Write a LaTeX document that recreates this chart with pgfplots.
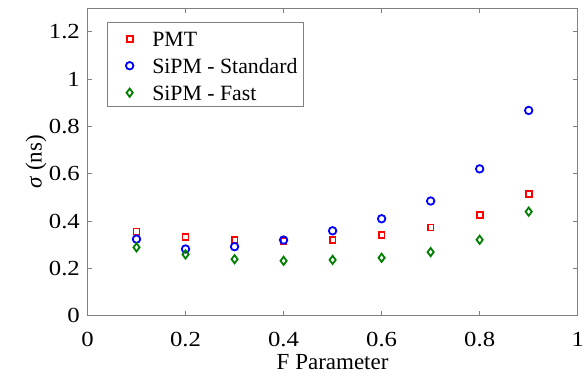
\documentclass[border=0pt]{standalone}
\usepackage{fontspec}
\setmainfont{Liberation Serif}
\newfontfamily\tnr{Liberation Serif}
\newfontfamily\tnrwide[FakeStretch=1.15]{Liberation Serif}
\usepackage{pgfplots}
\pgfplotsset{compat=1.18}
\definecolor{axgray}{RGB}{128,128,128}
\definecolor{mgreen}{RGB}{0,128,0}
\begin{document}
\tnr\fontsize{22}{26}\selectfont
\begin{tikzpicture}
\begin{axis}[
  scale only axis,
  width=490.2pt, height=307.4pt,
  xmin=0, xmax=1, ymin=0, ymax=1.3,
  xtick={0,0.2,0.4,0.6,0.8,1},
  ytick={0,0.2,0.4,0.6,0.8,1,1.2},
  xticklabels={0,0.2,0.4,0.6,0.8,1},
  yticklabels={0,0.2,0.4,0.6,0.8,1,1.2},
  tick align=inside,
  major tick length=5pt,
  axis line style={axgray, line width=0.9pt},
  every tick/.style={axgray, line width=0.9pt},
  ticklabel style={font=\tnrwide\fontsize{21.5}{24}\selectfont, text=black},
  xticklabel style={anchor=base, inner sep=0pt, yshift=-30.5pt},
  yticklabel style={anchor=east, inner sep=0pt, xshift=-7.5pt},
  xlabel={F Parameter},
  ylabel={\textit{σ} (ns)},
  every axis x label/.style={at={(axis description cs:0.5,-0.1766)}, anchor=base, font=\tnr\fontsize{23}{26}\selectfont},
  every axis y label/.style={at={(axis description cs:-0.105,0.5)}, rotate=90, anchor=center, font=\tnr\fontsize{23}{26}\selectfont},
  legend image code/.code={%
    \path (-15.6pt,0pt) (21.7pt,0pt);
    \draw[#1] plot coordinates {(0pt,7.4pt)};
  },
  legend style={at={(axis description cs:0.0392,0.9545)}, anchor=north west,
    draw=axgray, line width=0.9pt, font=\tnr\fontsize{21.8}{26}\selectfont,
    inner xsep=6pt, inner ysep=1.2pt, row sep=0pt, column sep=0pt,
    cells={anchor=base west},
    nodes={inner sep=0pt, text height=22.2pt, text depth=4.8pt}},
]
\addplot[only marks, mark=square, mark size=2.95pt, red, line width=1.8pt] coordinates {
 (0.1,0.356) (0.2,0.332) (0.3,0.320) (0.4,0.315) (0.5,0.321)
 (0.6,0.341) (0.7,0.373) (0.8,0.427) (0.9,0.515)};
\addlegendentry{PMT}
\addplot[only marks, mark=o, mark size=3.75pt, blue, line width=1.8pt] coordinates {
 (0.1,0.324) (0.2,0.282) (0.3,0.292) (0.4,0.320) (0.5,0.359)
 (0.6,0.410) (0.7,0.485) (0.8,0.621) (0.9,0.868)};
\addlegendentry{SiPM - Standard}
\addplot[only marks, mark=diamond, mark size=4.1pt, mgreen, line width=1.8pt] coordinates {
 (0.1,0.289) (0.2,0.259) (0.3,0.239) (0.4,0.232) (0.5,0.236)
 (0.6,0.245) (0.7,0.269) (0.8,0.321) (0.9,0.440)};
\addlegendentry{SiPM - Fast}
\end{axis}
\pgfresetboundingbox
\path ([shift={(-87.5pt,-64.3pt)}]current axis.south west) rectangle ([shift={(8.3pt,8.3pt)}]current axis.north east);
\end{tikzpicture}
\end{document}
